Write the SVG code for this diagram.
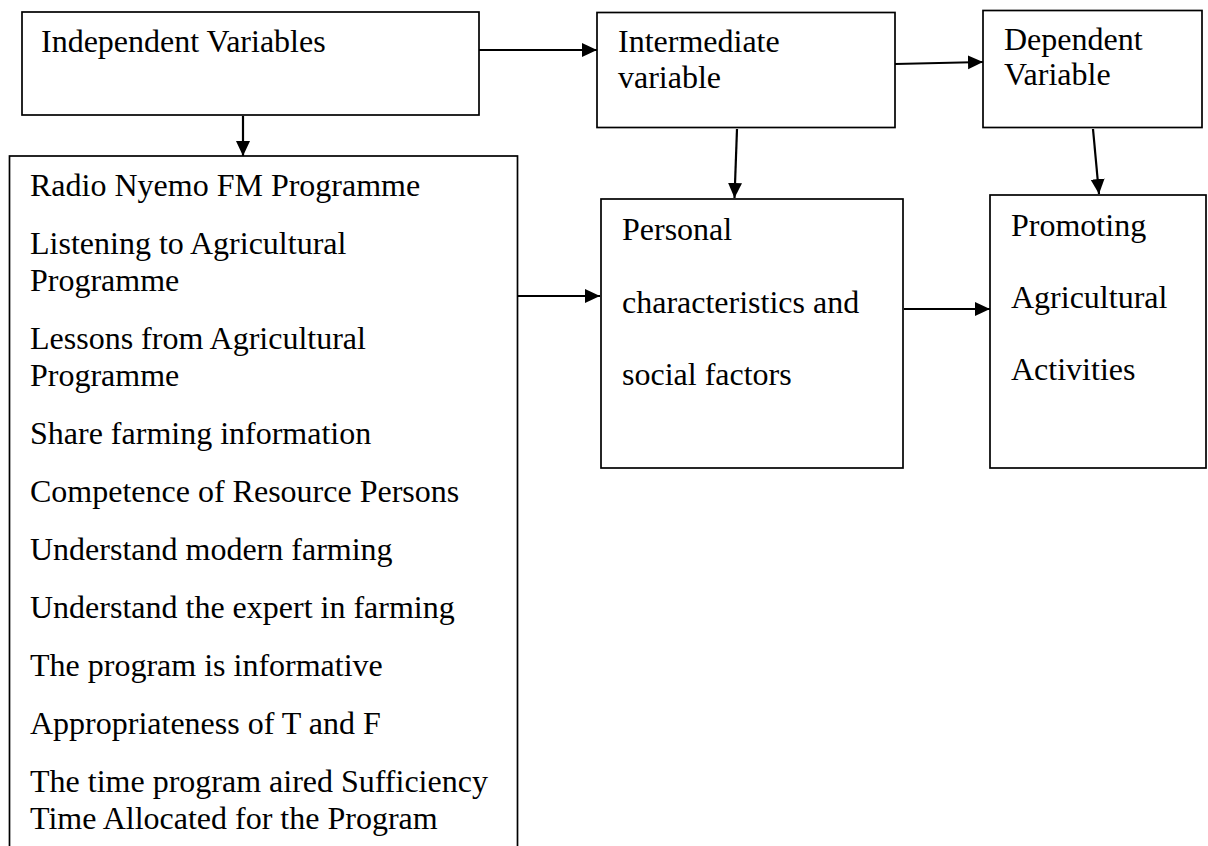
<svg xmlns="http://www.w3.org/2000/svg" width="1208" height="846" viewBox="0 0 1208 846">
<style>
.box{fill:#fff;stroke:#000;stroke-width:1.7}
.t{font-family:"Liberation Serif","Times New Roman",serif;font-size:32px;fill:#000}
.c{stroke:#000;stroke-width:2.2;fill:none;marker-end:url(#ah)}
</style>
<defs>
<marker id="ah" markerUnits="userSpaceOnUse" markerWidth="16" markerHeight="16" refX="15" refY="7" orient="auto">
<path d="M0,0 L15,7 L0,14 z" fill="#000"/>
</marker>
</defs>
<rect width="1208" height="846" fill="#fff"/>
<g id="independent">
<rect class="box" x="22" y="12" width="457" height="103"/>
<text class="t" x="41" y="52">Independent Variables</text>
</g>
<g id="intermediate">
<rect class="box" x="597" y="12.5" width="298" height="115"/>
<text class="t" x="618" y="52">Intermediate</text>
<text class="t" x="618" y="88">variable</text>
</g>
<g id="dependent">
<rect class="box" x="983" y="10.5" width="219" height="117"/>
<text class="t" x="1004" y="50">Dependent</text>
<text class="t" x="1004" y="85">Variable</text>
</g>
<g id="indicators">
<rect class="box" x="9.5" y="156" width="508" height="720"/>
<text class="t" x="30">
<tspan x="30" y="196">Radio Nyemo FM Programme</tspan>
<tspan x="30" y="254">Listening to Agricultural</tspan>
<tspan x="30" y="291">Programme</tspan>
<tspan x="30" y="349">Lessons from Agricultural</tspan>
<tspan x="30" y="386">Programme</tspan>
<tspan x="30" y="444">Share farming information</tspan>
<tspan x="30" y="502">Competence of Resource Persons</tspan>
<tspan x="30" y="560">Understand modern farming</tspan>
<tspan x="30" y="618">Understand the expert in farming</tspan>
<tspan x="30" y="676">The program is informative</tspan>
<tspan x="30" y="734">Appropriateness of T and F</tspan>
<tspan x="30" y="792">The time program aired Sufficiency</tspan>
<tspan x="30" y="829">Time Allocated for the Program</tspan>
</text>
</g>
<g id="personal">
<rect class="box" x="601" y="199" width="302" height="269"/>
<text class="t" x="622" y="240">Personal</text>
<text class="t" x="622" y="313">characteristics and</text>
<text class="t" x="622" y="385">social factors</text>
</g>
<g id="promoting">
<rect class="box" x="990" y="195" width="216" height="273"/>
<text class="t" x="1011" y="236">Promoting</text>
<text class="t" x="1011" y="308">Agricultural</text>
<text class="t" x="1011" y="380">Activities</text>
</g>
<g id="connectors">
<line class="c" x1="479" y1="50" x2="597" y2="50"/>
<line class="c" x1="895" y1="64" x2="983" y2="62"/>
<line class="c" x1="243" y1="116" x2="243" y2="156"/>
<line class="c" x1="737" y1="129" x2="734.5" y2="198"/>
<line class="c" x1="1093" y1="129" x2="1099" y2="194"/>
<line class="c" x1="518" y1="296" x2="600" y2="296"/>
<line class="c" x1="904" y1="309" x2="990" y2="309"/>
</g>
</svg>
